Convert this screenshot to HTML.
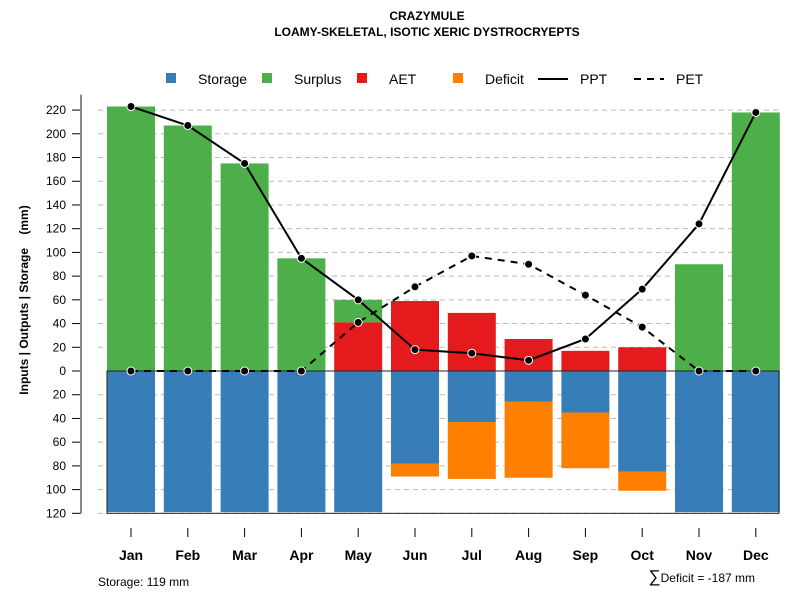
<!DOCTYPE html>
<html><head><meta charset="utf-8"><style>
body{margin:0;background:#fff}
svg{display:block;font-family:"Liberation Sans",sans-serif}
</style></head><body>
<svg id="chart" width="800" height="600" viewBox="0 0 800 600">
<text x="427" y="20" text-anchor="middle" font-size="12" font-weight="bold">CRAZYMULE</text>
<text x="427" y="36" text-anchor="middle" font-size="12" font-weight="bold">LOAMY-SKELETAL, ISOTIC XERIC DYSTROCRYEPTS</text>
<g id="legend" font-size="14">
<g><rect x="166" y="73" width="10" height="10" fill="#377eb8"/><text x="198" y="84">Storage</text></g>
<g><rect x="262" y="73" width="10" height="10" fill="#4daf4a"/><text x="294" y="84">Surplus</text></g>
<g><rect x="357" y="73" width="10" height="10" fill="#e41a1c"/><text x="389" y="84">AET</text></g>
<g><rect x="453" y="73" width="10" height="10" fill="#ff7f00"/><text x="485" y="84">Deficit</text></g>
<g><line x1="538" y1="79" x2="568" y2="79" stroke="#000" stroke-width="2"/><text x="580" y="84">PPT</text></g>
<g><line x1="634" y1="79" x2="664" y2="79" stroke="#000" stroke-width="2" stroke-dasharray="7,6"/><text x="676" y="84">PET</text></g>
</g>
<g id="grid"></g>
<g id="bars"></g>
<g id="lines"></g>
<g id="axes"></g>
<text transform="translate(28,300) rotate(-90)" text-anchor="middle" font-size="12" font-weight="bold">Inputs | Outputs | Storage&#160;&#160;&#160;&#160;(mm)</text>
<text x="98" y="586" font-size="12">Storage: 119 mm</text>
<text x="755" y="582" text-anchor="end" font-size="12"><tspan font-size="17">∑</tspan>Deficit = -187 mm</text>
</svg>
<script>
const months=["Jan","Feb","Mar","Apr","May","Jun","Jul","Aug","Sep","Oct","Nov","Dec"];
const ppt=[223,207,175,95,60,18,15,9,27,69,124,218];
const pet=[0,0,0,0,41,71,97,90,64,37,0,0];
const aet=[0,0,0,0,41,59,49,27,17,20,0,0];
const surplus=[223,207,175,95,19,0,0,0,0,0,90,218];
const storage=[119,119,119,119,119,78,43,26,35,85,119,119];
const deficit=[0,0,0,0,0,11,48,64,47,16,0,0];
const yTicks=[220,200,180,160,140,120,100,80,60,40,20,0,20,40,60,80,100,120];
const yTickVals=[220,200,180,160,140,120,100,80,60,40,20,0,-20,-40,-60,-80,-100,-120];
const NS="http://www.w3.org/2000/svg";
const y=v=>371-v*1.186;
const x=i=>131+i*56.8;
const bw=48;
function mk(tag,attrs,parent){const e=document.createElementNS(NS,tag);for(const k in attrs)e.setAttribute(k,attrs[k]);document.getElementById(parent).appendChild(e);return e;}
yTickVals.forEach((v,i)=>{
 if(v!==0){const g=mk('line',{x1:98,x2:780,y1:y(v),y2:y(v),stroke:'#bbb','stroke-dasharray':'5,4'},'grid');
 
 }
 const t=mk('line',{x1:72,x2:81,y1:y(v),y2:y(v),stroke:'#000'},'axes');
 
 
 const l=mk('text',{x:66,y:y(v)+4,'text-anchor':'end','font-size':12},'axes');
 l.textContent=yTicks[i];
 
 
});
const ax=mk('line',{x1:81,x2:81,y1:y(233),y2:y(-120),stroke:'#888','stroke-width':2},'axes');


function bar(i,v0,v1,col,name){if(v1===v0)return;const r=mk('rect',{x:x(i)-bw/2,y:y(Math.max(v0,v1)),width:bw,height:Math.abs(v1-v0)*1.186,fill:col},'bars');
 
 }
months.forEach((m,i)=>{
 bar(i,0,-storage[i],'#377eb8','bar-storage-'+m.toLowerCase());
 bar(i,-storage[i],-storage[i]-deficit[i],'#ff7f00','bar-deficit-'+m.toLowerCase());
 bar(i,0,aet[i],'#e41a1c','bar-aet-'+m.toLowerCase());
 bar(i,aet[i],aet[i]+surplus[i],'#4daf4a','bar-surplus-'+m.toLowerCase());
 const t=mk('line',{x1:x(i),x2:x(i),y1:528,y2:537,stroke:'#000'},'axes');
 
 
 const l=mk('text',{x:x(i),y:560,'text-anchor':'middle','font-size':14,'font-weight':'bold'},'axes');
 l.textContent=m;
 
 
});
const fr=mk('rect',{x:107,y:y(0),width:672,height:120*1.186,fill:'none',stroke:'#222'},'bars');


function series(arr,dash,name){
 const p=mk('polyline',{points:arr.map((v,i)=>x(i)+','+y(v)).join(' '),fill:'none',stroke:'#000','stroke-width':2,'stroke-dasharray':dash},'lines');
 
 
 arr.forEach((v,i)=>{const c=mk('circle',{cx:x(i),cy:y(v),r:4,fill:'#000',stroke:'#fff','stroke-width':1},'lines');
 
 });
}
series(pet,'7,6','pet');
series(ppt,'none','ppt');
</script>
</body></html>
